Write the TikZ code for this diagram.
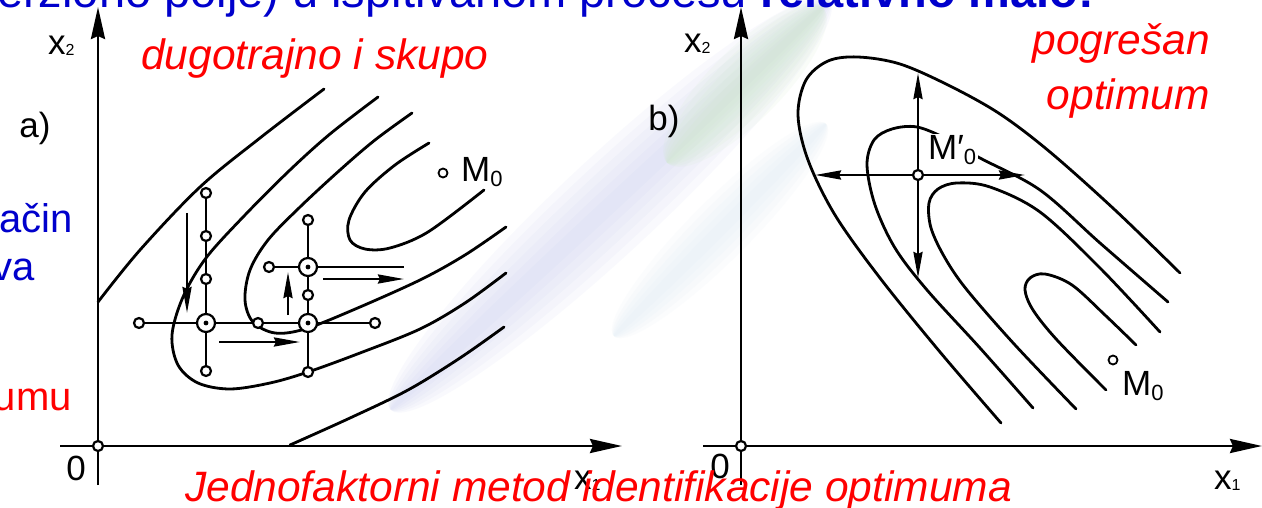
\documentclass[tikz,border=0pt]{standalone}
\usepackage{fontspec}
\setmainfont{Liberation Sans}
\usetikzlibrary{arrows.meta}
\definecolor{slred}{RGB}{255,0,0}
\definecolor{slblue}{RGB}{0,0,204}
\definecolor{streakA}{RGB}{200,205,240}
\definecolor{streakB}{RGB}{205,235,195}
\definecolor{streakC}{RGB}{205,225,240}
\newcommand{\xsub}[1]{\raisebox{-1pt}{\fontsize{16}{16}\selectfont #1}}
\newcommand{\msub}[1]{\raisebox{-5pt}{\fontsize{22}{22}\selectfont #1}}
\begin{document}
\begin{tikzpicture}[x=1pt,y=-1pt,
  curve/.style={line width=2.8pt, line cap=round},
  axis/.style={line width=2.8pt, -{Stealth[length=32pt,width=14pt,inset=3pt]}},
  mv/.style={line width=2.6pt, -{Stealth[length=26pt,width=9pt,inset=2pt]}},
  gl/.style={line width=2.6pt},
  pt/.style={circle, draw, fill=white, line width=2.2pt, inner sep=0pt, minimum size=10pt},
  bigpt/.style={circle, draw, fill=white, line width=2.2pt, inner sep=0pt, minimum size=18pt,
    path picture={\fill[black] (path picture bounding box.center) circle (2.4pt);}},
  lbl/.style={font=\fontsize{35}{35}\selectfont, inner sep=0pt},
  redtxt/.style={text=slred, font=\fontsize{42.5}{42.5}\selectfont\itshape, inner sep=0pt},
  bluetxt/.style={text=slblue, font=\fontsize{40}{40}\selectfont, inner sep=0pt},
  sm/.style={smooth, tension=0.55},
]
\useasboundingbox (0,0) rectangle (1262,508);
\clip (0,0) rectangle (1262,508);
\fill[white] (0,0) rectangle (1262,508);

% faint background streaks of the slide
\foreach \w in {8,16,...,48} {
  \fill[streakA, opacity=0.1, rotate around={43:(610,205)}] (610,205) ellipse (300 and \w);
}
\foreach \w in {6,12,...,36} {
  \fill[streakB, opacity=0.1, rotate around={45:(745,85)}] (745,85) ellipse (110 and \w);
}
\foreach \w in {6,12,...,30} {
  \fill[streakC, opacity=0.08, rotate around={45:(720,230)}] (720,230) ellipse (150 and \w);
}

% ---- slide fragments ----
\node[bluetxt, font=\fontsize{47}{47}\selectfont, anchor=base west] (top) at (-3,8) {erziono polje) u ispitivanom procesu \textbf{relativno malo:}};
\node[bluetxt, anchor=base west] (acin) at (-1,233) {ačin};
\node[bluetxt, anchor=base east] (va) at (35,280) {va};
\node[bluetxt, text=slred, anchor=base east] (umu) at (72,410) {umu};

% ================= panel a =================
\coordinate (ay0) at (98,485);
\coordinate (ay1) at (98,7);
\coordinate (ax0) at (60,446);
\coordinate (ax1) at (622,446);
\draw[axis] (ay0) -- (ay1);
\draw[axis] (ax0) -- (ax1);
\node[pt] (oa) at (98,446) {};
\node[lbl, anchor=center] (za) at (76,468) {0};
\node[lbl, anchor=base west] (x2a) at (48,55) {x\xsub{2}};
\node[lbl, anchor=base west] (x1a) at (574,489) {x\xsub{1}};
\node[lbl] (la) at (35,128) {a)};
\node[redtxt, anchor=base west] (t1) at (141,70) {dugotrajno i skupo};

% contours a
\draw[curve] plot[sm] coordinates {(98,302) (140,250) (200,187) (260,138) (324,89)};
\draw[curve] plot[sm] coordinates {(290,445) (350,418) (408,390) (460,358) (504,327)};
\draw[curve] plot[sm] coordinates {(378,97) (330,134) (290,170) (245,215) (206,258) (183,297) (172,335) (178,365) (198,383) (230,389) (270,383) (308,372) (360,353) (420,329) (465,303) (506,273)};
\draw[curve] plot[sm] coordinates {(412,113) (375,140) (340,170) (300,207) (268,240) (250,270) (245,300) (253,322) (275,333) (305,329) (353,310) (420,280) (465,255) (506,227)};
\draw[curve] plot[sm] coordinates {(429,143) (395,165) (365,192) (349,220) (350,240) (365,249) (390,248) (428,232) (484,190)};

% grid a
\node[pt] (a1) at (206,193) {};
\node[pt] (a2) at (206,236) {};
\node[pt] (a3) at (206,279) {};
\node[bigpt] (A) at (206,323) {};
\node[pt] (a4) at (206,371) {};
\node[pt] (h1) at (139,323) {};
\node[pt] (h2) at (258,323) {};
\node[bigpt] (B) at (308,323) {};
\node[pt] (h3) at (375,323) {};
\node[pt] (b1) at (308,220) {};
\node[bigpt] (B2) at (308,267) {};
\node[pt] (b2) at (308,295) {};
\node[pt] (b3) at (308,372) {};
\node[pt] (h4) at (269,267) {};
\coordinate (e1) at (404,267);
\draw[gl] (a1) -- (a2) (a2) -- (a3) (a3) -- (A) (A) -- (a4);
\draw[gl] (h1) -- (A) (A) -- (h2) (h2) -- (B) (B) -- (h3);
\draw[gl] (b1) -- (B2) (B2) -- (b2) (b2) -- (B) (B) -- (b3);
\draw[gl] (h4) -- (B2) (B2) -- (e1);
\coordinate (d0) at (187,213); \coordinate (d1) at (187,313);
\coordinate (u0) at (288,315); \coordinate (u1) at (288,272);
\coordinate (r0) at (219,342); \coordinate (r1) at (300,342);
\coordinate (s0) at (323,279); \coordinate (s1) at (404,279);
\draw[mv] (d0) -- (d1);
\draw[mv] (u0) -- (u1);
\draw[mv] (r0) -- (r1);
\draw[mv] (s0) -- (s1);

\node[pt, minimum size=9pt, line width=1.8pt] (m0a) at (443,173) {};
\node[lbl, anchor=base west] (m0al) at (461,182) {M\msub{0}};

% ================= panel b =================
\coordinate (by0) at (741,485);
\coordinate (by1) at (741,7);
\coordinate (bx0) at (703,446);
\coordinate (bx1) at (1262,446);
\draw[axis] (by0) -- (by1);
\draw[axis] (bx0) -- (bx1);
\node[pt] (ob) at (741,446) {};
\node[lbl, anchor=center] (zb) at (720,466) {0};
\node[lbl, anchor=base west] (x2b) at (684,53) {x\xsub{2}};
\node[lbl, anchor=base west] (x1b) at (1214,489) {x\xsub{1}};
\node[lbl] (lb) at (664,121) {b)};
\node[redtxt, anchor=base east] (t2) at (1210,55) {pogrešan};
\node[redtxt, anchor=base east] (t3) at (1210,110) {optimum};

% contours b
\draw[curve] plot[sm] coordinates {(1001,423) (940,352) (880,278) (835,215) (808,160) (798,115) (806,80) (828,61) (858,57) (900,64) (950,86) (1000,114) (1050,152) (1115,210) (1180,273)};
\draw[curve] plot[sm] coordinates {(1033,408) (980,348) (927,290) (895,248) (875,205) (867,165) (874,140) (892,129) (917,127) (947,139) (980,158) (1040,190) (1100,243) (1168,302)};
\draw[curve] plot[sm] coordinates {(1076,409) (1015,345) (967,290) (945,258) (931,228) (929,203) (938,189) (957,183) (990,187) (1040,212) (1100,268) (1160,332)};
\draw[curve] plot[sm] coordinates {(1106,390) (1057,340) (1033,310) (1025,290) (1030,278) (1045,274) (1072,285) (1106,316) (1136,345)};

\node[fill=white, inner sep=2pt, font=\fontsize{35}{35}\selectfont, anchor=base west] (mpl) at (926,160) {M\char"2032\msub{0}};
\node[pt] (mp) at (918,175) {};
\coordinate (mu) at (918,73);
\coordinate (md) at (918,278);
\coordinate (ml) at (815,175);
\coordinate (mr) at (1025,175);
\draw[mv] (mp) -- (mu);
\draw[mv] (mp) -- (md);
\draw[mv] (mp) -- (ml);
\draw[mv] (mp) -- (mr);

\node[pt, minimum size=9pt, line width=1.8pt] (m0b) at (1113,360) {};
\node[lbl, anchor=base west] (m0bl) at (1122,395) {M\msub{0}};

% bottom caption
\node[redtxt, anchor=base west] (cap) at (185,501) {Jednofaktorni metod identifikacije optimuma};
\end{tikzpicture}
\end{document}
